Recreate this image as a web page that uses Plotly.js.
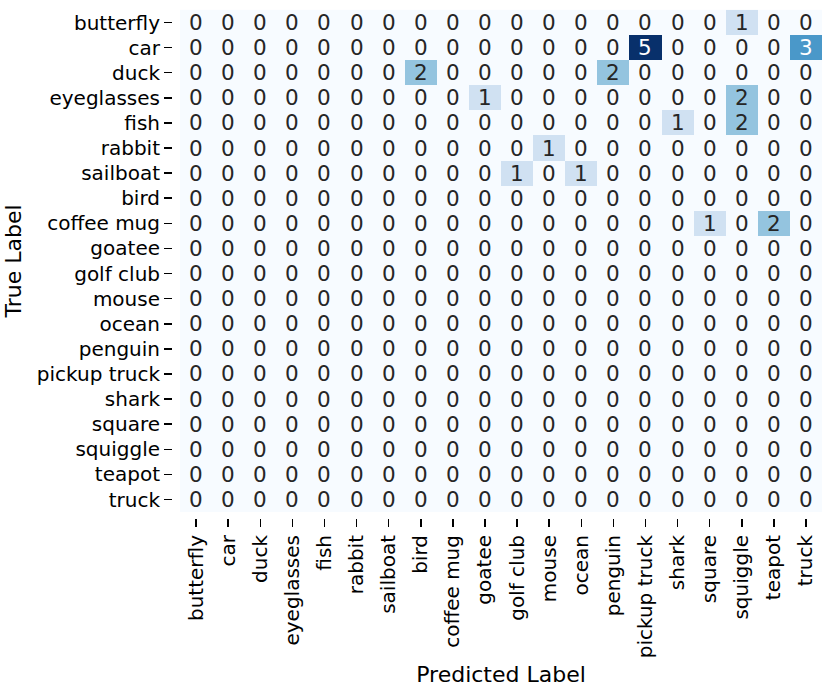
<!DOCTYPE html>
<html>
<head>
<meta charset="utf-8">
<script src="https://cdn.plot.ly/plotly-3.0.1.min.js"></script>
<style>
  body { margin: 0; background: white; }
  #chart { width: 831px; height: 695px; }
</style>
</head>
<body>
<div id="chart"></div>
<script>
// class names, same order on both axes
var labels = ['butterfly', 'car', 'duck', 'eyeglasses', 'fish', 'rabbit', 'sailboat',
  'bird', 'coffee mug', 'goatee', 'golf club', 'mouse', 'ocean', 'penguin',
  'pickup truck', 'shark', 'square', 'squiggle', 'teapot', 'truck'];

// confusion counts, rows = true label, cols = predicted label
var counts = [
  [0,0,0,0,0,0,0,0,0,0,0,0,0,0,0,0,0,1,0,0],
  [0,0,0,0,0,0,0,0,0,0,0,0,0,0,5,0,0,0,0,3],
  [0,0,0,0,0,0,0,2,0,0,0,0,0,2,0,0,0,0,0,0],
  [0,0,0,0,0,0,0,0,0,1,0,0,0,0,0,0,0,2,0,0],
  [0,0,0,0,0,0,0,0,0,0,0,0,0,0,0,1,0,2,0,0],
  [0,0,0,0,0,0,0,0,0,0,0,1,0,0,0,0,0,0,0,0],
  [0,0,0,0,0,0,0,0,0,0,1,0,1,0,0,0,0,0,0,0],
  [0,0,0,0,0,0,0,0,0,0,0,0,0,0,0,0,0,0,0,0],
  [0,0,0,0,0,0,0,0,0,0,0,0,0,0,0,0,1,0,2,0],
  [0,0,0,0,0,0,0,0,0,0,0,0,0,0,0,0,0,0,0,0],
  [0,0,0,0,0,0,0,0,0,0,0,0,0,0,0,0,0,0,0,0],
  [0,0,0,0,0,0,0,0,0,0,0,0,0,0,0,0,0,0,0,0],
  [0,0,0,0,0,0,0,0,0,0,0,0,0,0,0,0,0,0,0,0],
  [0,0,0,0,0,0,0,0,0,0,0,0,0,0,0,0,0,0,0,0],
  [0,0,0,0,0,0,0,0,0,0,0,0,0,0,0,0,0,0,0,0],
  [0,0,0,0,0,0,0,0,0,0,0,0,0,0,0,0,0,0,0,0],
  [0,0,0,0,0,0,0,0,0,0,0,0,0,0,0,0,0,0,0,0],
  [0,0,0,0,0,0,0,0,0,0,0,0,0,0,0,0,0,0,0,0],
  [0,0,0,0,0,0,0,0,0,0,0,0,0,0,0,0,0,0,0,0],
  [0,0,0,0,0,0,0,0,0,0,0,0,0,0,0,0,0,0,0,0]
];

// matplotlib Blues
var blues = [
  [0.0, '#f7fbff'], [0.125, '#deebf7'], [0.25, '#c6dbef'], [0.375, '#9ecae1'],
  [0.5, '#6baed6'], [0.625, '#4292c6'], [0.75, '#2171b5'], [0.875, '#08519c'],
  [1.0, '#08306b']
];
var zmax = 5;

var heat = {
  type: 'heatmap',
  x: labels,
  y: labels,
  z: counts,
  zmin: 0,
  zmax: zmax,
  colorscale: blues,
  showscale: false,
  xgap: 0, ygap: 0,
  hoverinfo: 'skip'
};

// cell numbers, white on dark cells
var annots = [];
for (var i = 0; i < labels.length; i++) {
  for (var j = 0; j < labels.length; j++) {
    var v = counts[i][j];
    annots.push({
      x: labels[j], y: labels[i], text: String(v),
      showarrow: false,
      font: {family: 'DejaVu Sans', size: 21.5, color: (v / zmax > 0.55) ? 'white' : '#262626'}
    });
  }
}

// axes sit a few px off the heatmap, like seaborn's ticks
var plotW = 822 - 172, plotH = 518 - 8;

var layout = {
  width: 831,
  height: 695,
  margin: {l: 172, r: 9, t: 8, b: 177, pad: 0},
  paper_bgcolor: 'white',
  plot_bgcolor: 'white',
  font: {family: 'DejaVu Sans', color: 'black'},
  xaxis: {
    type: 'category',
    domain: [8 / plotW, 1],
    anchor: 'free', position: 0,
    tickangle: -90,
    ticks: 'outside', ticklen: 8, tickwidth: 1.5, tickcolor: 'black',
    tickfont: {size: 20, family: 'DejaVu Sans'},
    showgrid: false, zeroline: false, showline: false,
    title: {text: 'Predicted Label', font: {size: 22}, standoff: 9}
  },
  yaxis: {
    type: 'category',
    domain: [4 / plotH, 1],
    anchor: 'free', position: 0,
    autorange: 'reversed',
    ticks: 'outside', ticklen: 8, tickwidth: 1.5, tickcolor: 'black',
    tickfont: {size: 20, family: 'DejaVu Sans'},
    showgrid: false, zeroline: false, showline: false,
    title: {text: 'True Label', font: {size: 22}, standoff: 8}
  },
  annotations: annots
};

Plotly.newPlot('chart', [heat], layout, {displayModeBar: false, staticPlot: true});
</script>
</body>
</html>
